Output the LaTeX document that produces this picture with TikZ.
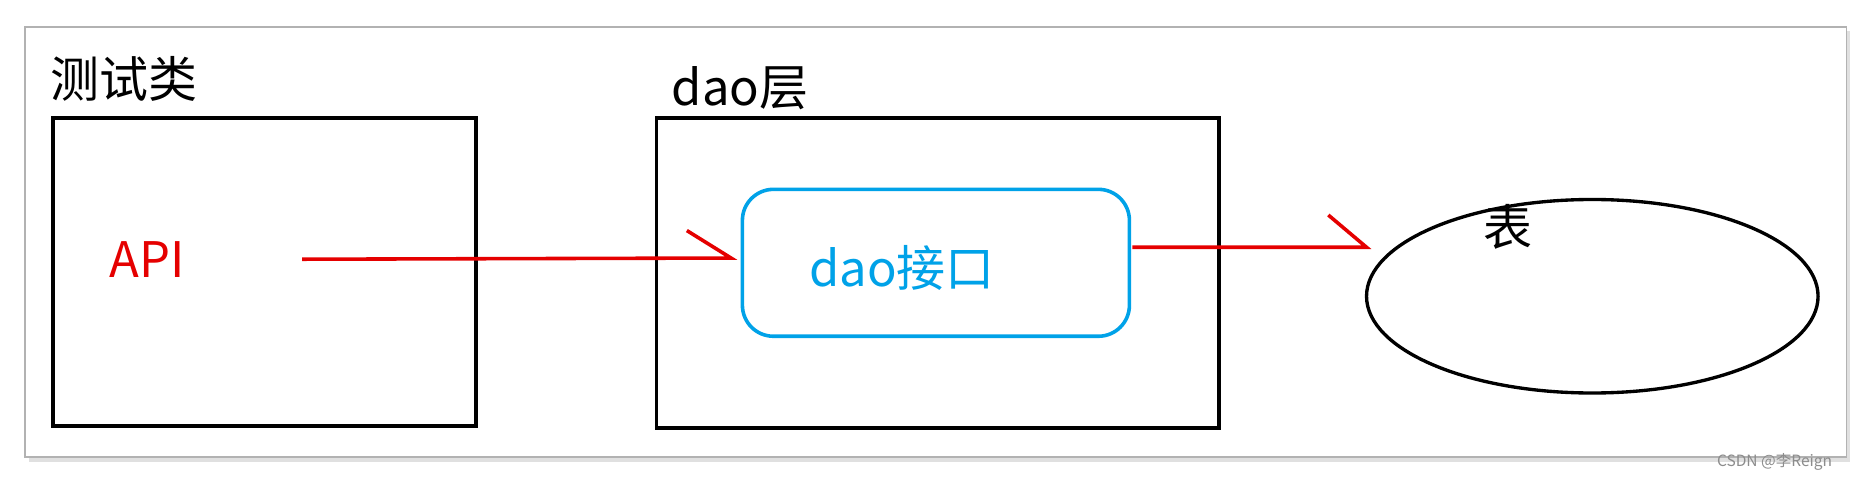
\documentclass[tikz,border=0pt]{standalone}
\usepackage{fontspec}
\usetikzlibrary{shapes.geometric}
\setmainfont{Noto Sans CJK SC}
\begin{document}
\begin{tikzpicture}[x=0.5pt,y=-0.5pt,
  blk/.style={draw=black,line width=1.6pt},
  redline/.style={draw=red!90!black,line width=1.5pt},
  lbl/.style={inner sep=0pt,font=\fontsize{20.5}{21}\selectfont}]
\useasboundingbox[fill=white] (0,0) rectangle (1568,403);
\fill[black!12] (24,26) rectangle (1549,387);
\node[draw=black!30,fill=white,line width=0.8pt,minimum width=762.5pt,minimum height=180pt,inner sep=0pt,anchor=north west] (frame) at (20,22) {};
\node[blk,minimum width=177pt,minimum height=129pt,inner sep=0pt,anchor=north west] (test) at (43,97) {};
\node[blk,minimum width=235.5pt,minimum height=130pt,inner sep=0pt,anchor=north west] (dao) at (548,97) {};
\node[lbl,anchor=west] (tl) at (42,66) {测试类};
\node[lbl,anchor=west] (dl) at (562,74) {dao层};
\node[draw={rgb,255:red,0;green,162;blue,232},line width=1.5pt,rounded corners=13pt,minimum width=162pt,minimum height=61.5pt,inner sep=0pt,anchor=north west] (intf) at (620,157) {};
\node[lbl,text={rgb,255:red,0;green,162;blue,232}] (il) at (755,224) {dao接口};
\node[lbl,text=red!90!black] (api) at (123,217) {API};
\node[draw=black,line width=1.4pt,ellipse,minimum width=189pt,minimum height=81pt,inner sep=0pt] (tab) at (1333,248) {};
\node[lbl] (tbl) at (1262,190) {表};
\node[inner sep=0pt,text=black!45,font=\fontsize{6.5}{7}\selectfont,anchor=west] (wm) at (1437,387) {CSDN @李Reign};
\coordinate (a1) at (253,217);
\coordinate (a2) at (612,216);
\coordinate (h1) at (575,193);
\draw[redline] (a1) -- (a2) -- (h1);
\coordinate (b1) at (948,207);
\coordinate (b2) at (1144,207);
\coordinate (h2) at (1112,180);
\draw[redline] (b1) -- (b2) -- (h2);
\end{tikzpicture}
\end{document}
